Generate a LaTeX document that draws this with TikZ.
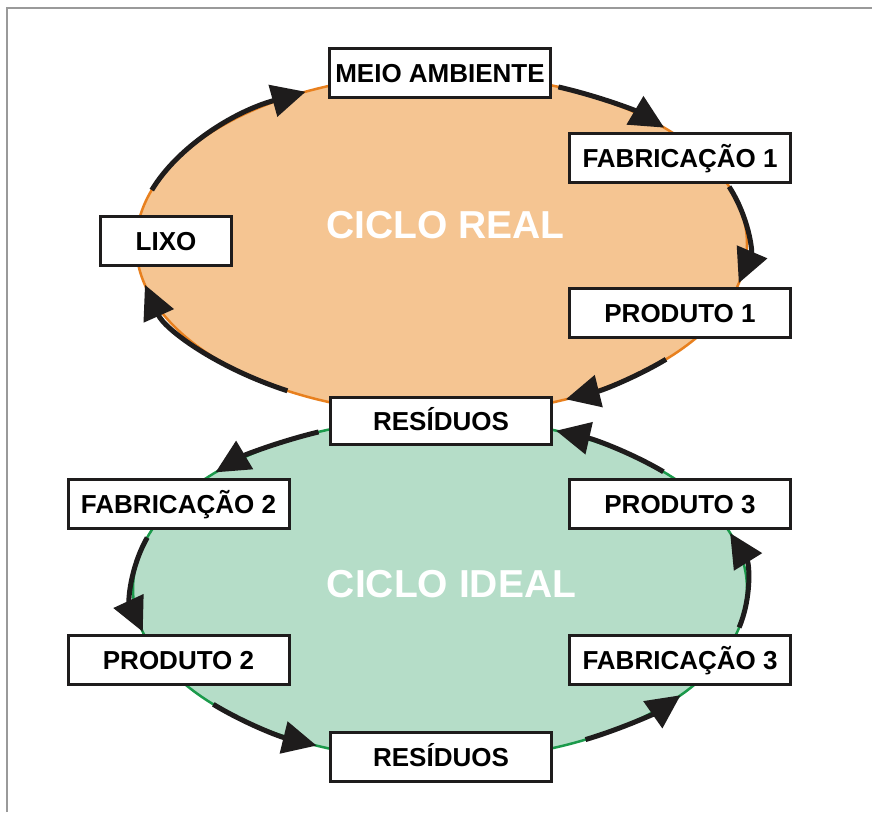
\documentclass[tikz,border=0pt]{standalone}
\usepackage{fontspec}
\setmainfont{Liberation Sans}
\usetikzlibrary{arrows.meta}
\definecolor{peach}{HTML}{F5C592}
\definecolor{realline}{HTML}{E8801E}
\definecolor{mintfill}{HTML}{B5DDC8}
\definecolor{idealline}{HTML}{1B9A4B}
\definecolor{ink}{HTML}{1E1C1C}
\definecolor{framegray}{HTML}{9A9A9A}
\tikzset{
  >={Triangle[length=34pt,width=32pt]},
  cycflow/.style={->,line width=5pt,draw=ink},
  stagebox/.style={draw=ink,line width=3pt,fill=white,minimum width=221pt,
    minimum height=49pt,inner sep=0pt,text height=19pt,text depth=0pt,
    font=\bfseries\fontsize{26}{30}\selectfont},
  cyclabel/.style={text=white,anchor=base,font=\bfseries\fontsize{39}{44}\selectfont}
}
\begin{document}
\begin{tikzpicture}[x=1pt,y=-1pt]
  \useasboundingbox (0,0) rectangle (872,812);
  \fill[white] (0,0) rectangle (872,812);
  \draw[framegray,line width=1.5pt] (7,812) -- (7,8) -- (872,8);

  \coordinate (real) at (441.5,244);
  \coordinate (ideal) at (440,589);

  % the two cycles
  \fill[peach] (real) ellipse[x radius=305.5,y radius=170];
  \draw[realline,line width=2.5pt] (real) ellipse[x radius=305.5,y radius=170];
  \fill[mintfill] (ideal) ellipse[x radius=307,y radius=171];
  \draw[idealline,line width=2.5pt] (ideal) ellipse[x radius=307,y radius=171];

  \node[cyclabel] (lreal) at (445.5,238) {CICLO REAL};
  \node[cyclabel] (lideal) at (451.5,597) {CICLO IDEAL};

  % arrows along the cycles
  \foreach \a/\b in {198.5/243.6,292.5/316.8,-19.7/13.3,42.7/66,120.3/166.1}
    \draw[cycflow] (real) ++(\a:305.5 and 170) arc[start angle=\a,end angle=\b,x radius=305.5,y radius=170];
  \foreach \a/\b in {246.7/223,197.5/165.5,137.6/113.7,61.7/38.4,13/-19.1,-43.3/-67.8}
    \draw[cycflow] (ideal) ++(\a:307 and 171) arc[start angle=\a,end angle=\b,x radius=307,y radius=171];

  \node[stagebox] (meio) at (440,73) {MEIO AMBIENTE};
  \node[stagebox] (fab1) at (680,157.5) {FABRICAÇÃO 1};
  \node[stagebox] (prod1) at (680,313) {PRODUTO 1};
  \node[stagebox,minimum width=131pt] (lixo) at (166,241) {LIXO};
  \node[stagebox,minimum height=47pt] (resreal) at (441,420.5) {RESÍDUOS};

  \node[stagebox] (fab2) at (178.5,504) {FABRICAÇÃO 2};
  \node[stagebox] (prod2) at (178.5,660) {PRODUTO 2};
  \node[stagebox] (resideal) at (441,757) {RESÍDUOS};
  \node[stagebox] (prod3) at (680,504) {PRODUTO 3\hspace{22pt}};
  \node[stagebox] (fab3) at (680,660) {FABRICAÇÃO 3};
\end{tikzpicture}
\end{document}
